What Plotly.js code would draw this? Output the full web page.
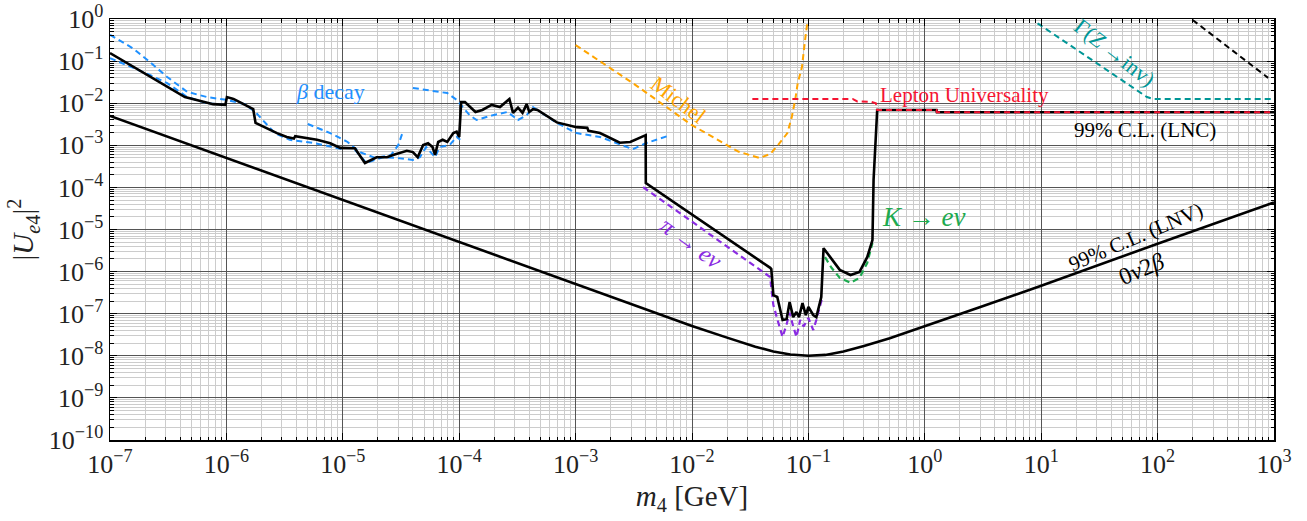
<!DOCTYPE html>
<html>
<head>
<meta charset="utf-8">
<script src="https://cdn.plot.ly/plotly-3.0.1.min.js"></script>
<style>html,body{margin:0;padding:0;background:#fff;}#plot{width:1307px;height:521px;}</style>
</head>
<body>
<div id="plot"></div>
<script>
// ---- Data (x: m4 in GeV, y: |U_e4|^2) ----
const lnvX = [1e-7, 1e-6, 1e-5, 1e-4, 1e-3, 1e-2, 0.02, 0.035, 0.05, 0.07, 0.1, 0.14, 0.2, 0.3, 0.5, 1, 3, 10, 100, 1000];
const lnvY = [5e-3, 5e-4, 5e-5, 5e-6, 5e-7, 5.1e-8, 2.7e-8, 1.65e-8, 1.26e-8, 1.07e-8, 1.0e-8, 1.05e-8, 1.26e-8, 1.7e-8, 2.6e-8, 5e-8, 1.45e-7, 4.6e-7, 4.6e-6, 4.4e-5];

const lncX = [1e-7, 4.4e-7, 7.7e-7, 9.8e-7, 1.01e-6, 1.15e-6, 1.7e-6, 1.78e-6, 2.72e-6, 3.3e-6, 3.8e-6, 3.9e-6, 6.0e-6, 7.8e-6, 9.5e-6, 1.27e-5, 1.55e-5, 1.95e-5, 2.4e-5, 2.7e-5, 3.55e-5, 4.0e-5, 4.4e-5, 4.9e-5, 5.4e-5, 5.9e-5, 6.2e-5, 6.6e-5, 7.2e-5, 7.9e-5, 8.9e-5, 9.5e-5, 1.0e-4, 1.04e-4, 1.12e-4, 1.38e-4, 1.58e-4, 1.9e-4, 2.24e-4, 2.7e-4, 2.9e-4, 3.2e-4, 3.5e-4, 3.8e-4, 4.0e-4, 4.3e-4, 4.7e-4, 6.9e-4, 1.02e-3, 1.26e-3, 1.29e-3, 1.62e-3, 2.4e-3, 2.95e-3, 4.0e-3, 4.01e-3, 4.7e-2, 4.8e-2, 5.0e-2, 5.4e-2, 6.0e-2, 6.5e-2, 6.9e-2, 7.4e-2, 7.9e-2, 8.3e-2, 8.9e-2, 9.5e-2, 0.1, 0.11, 0.117, 0.129, 0.135, 0.155, 0.186, 0.23, 0.275, 0.32, 0.355, 0.363, 0.39, 1.26, 1.27, 1.7, 1000];
const lncY = [0.155, 1.4e-2, 9.5e-3, 9.1e-3, 1.4e-2, 1.26e-2, 7.2e-3, 3.4e-3, 1.95e-3, 1.58e-3, 1.45e-3, 1.65e-3, 1.35e-3, 1.12e-3, 8.7e-4, 8.5e-4, 3.8e-4, 5.2e-4, 5.2e-4, 5.9e-4, 7.4e-4, 6.9e-4, 5.2e-4, 1.02e-3, 1.12e-3, 9.1e-4, 5.9e-4, 1.2e-3, 1.35e-3, 1.2e-3, 1.95e-3, 2.1e-3, 1.58e-3, 1.07e-2, 1.07e-2, 6.2e-3, 6.9e-3, 9.1e-3, 8.1e-3, 1.26e-2, 5.9e-3, 7.8e-3, 5.9e-3, 9.5e-3, 6.2e-3, 7.2e-3, 6.9e-3, 3.5e-3, 2.7e-3, 2.6e-3, 2.2e-3, 1.95e-3, 1.15e-3, 1.2e-3, 1.74e-3, 1.26e-4, 1.23e-6, 1.15e-6, 2.75e-7, 2.5e-7, 7.1e-8, 7.4e-8, 1.9e-7, 8.3e-8, 1.1e-7, 8.3e-8, 1.78e-7, 9.3e-8, 1.45e-7, 9.3e-8, 8.3e-8, 2.5e-7, 3.6e-6, 2.1e-6, 1.1e-6, 8.3e-7, 9.8e-7, 2.2e-6, 5.6e-6, 1.5e-4, 6.9e-3, 6.9e-3, 6.1e-3, 6.1e-3, 6.1e-3];

const luX = [3.3e-2, 0.24, 0.263, 0.347, 0.38, 0.39, 1.26, 1.27, 1000];
const luY = [1.26e-2, 1.26e-2, 1.1e-2, 1.07e-2, 1.0e-2, 6.9e-3, 6.9e-3, 6.1e-3, 6.1e-3];

const michelX = [1e-3, 3.16e-3, 1e-2, 1.86e-2, 2.5e-2, 3.8e-2, 4.7e-2, 5.5e-2, 6.6e-2, 7.2e-2, 7.7e-2, 8.1e-2, 8.8e-2, 9.3e-2, 9.8e-2];
const michelY = [0.24, 2.9e-2, 3.0e-3, 1.12e-3, 7.1e-4, 5.0e-4, 6.2e-4, 1.02e-3, 1.95e-3, 4.7e-3, 1.2e-2, 3.0e-2, 7.2e-2, 0.27, 0.85];

const piX = [3.8e-3, 4.7e-2, 4.8e-2, 5.0e-2, 5.5e-2, 6.0e-2, 6.5e-2, 6.9e-2, 7.4e-2, 7.9e-2, 8.5e-2, 9.1e-2, 0.1, 0.11, 0.117, 0.126, 0.132];
const piY = [1.02e-4, 7.4e-7, 4.0e-7, 1.6e-7, 6.3e-8, 2.8e-8, 5.6e-8, 1.05e-7, 5.0e-8, 2.8e-8, 7.1e-8, 5.0e-8, 7.9e-8, 4.1e-8, 7.1e-8, 1.45e-7, 2.5e-7];

const kX = [0.139, 0.158, 0.186, 0.23, 0.275, 0.32, 0.355];
const kY = [2.2e-6, 1.23e-6, 7.1e-7, 5.4e-7, 7.1e-7, 1.6e-6, 4.8e-6];

const zX = [9.3, 81, 91, 1000];
const zY = [0.79, 1.4e-2, 1.26e-2, 1.26e-2];

const bkDashX = [200, 890];
const bkDashY = [0.95, 4.0e-2];

const beta1X = [1e-7, 1.58e-7, 2.2e-7, 3.1e-7, 4.6e-7, 6.8e-7, 1e-6, 1.44e-6, 1.8e-6, 2.6e-6, 3.5e-6, 5.8e-6, 1.05e-5];
const beta1Y = [0.42, 0.20, 0.095, 4.2e-2, 1.86e-2, 1.4e-2, 1.2e-2, 9.5e-3, 5.9e-3, 1.95e-3, 1.35e-3, 1.12e-3, 7.8e-4];
const beta2X = [1e-7, 1.58e-7, 2.2e-7, 3.1e-7, 4.6e-7, 6.8e-7, 9.5e-7];
const beta2Y = [0.118, 6.9e-2, 4.7e-2, 3.0e-2, 1.4e-2, 1.0e-2, 9.1e-3];
const beta3X = [5.0e-6, 7.8e-6, 1.1e-5, 1.4e-5, 1.9e-5, 2.6e-5, 3.0e-5, 3.3e-5];
const beta3Y = [3.2e-3, 1.95e-3, 1.2e-3, 6.9e-4, 5.0e-4, 5.9e-4, 1.02e-3, 2.2e-3];
const beta4X = [1.27e-5, 1.6e-5, 2.2e-5, 2.9e-5, 4.0e-5, 4.6e-5, 5.2e-5, 6.2e-5, 6.8e-5, 8.3e-5, 9.5e-5, 1.02e-4];
const beta4Y = [7.8e-4, 3.8e-4, 5.2e-4, 5.0e-4, 4.5e-4, 5.2e-4, 9.1e-4, 5.2e-4, 9.1e-4, 1.02e-3, 1.58e-3, 1.35e-3];
const beta5X = [4.0e-5, 5.9e-5, 7.9e-5, 9.5e-5, 1.07e-4, 1.23e-4, 1.41e-4, 1.95e-4, 2.6e-4, 3.2e-4, 3.8e-4, 4.3e-4, 6.9e-4, 1.02e-3, 1.62e-3, 2.3e-3, 3.1e-3, 4.0e-3, 6.5e-3];
const beta5Y = [2.3e-2, 2.0e-2, 1.74e-2, 1.2e-2, 8.1e-3, 5.2e-3, 4.0e-3, 5.2e-3, 6.2e-3, 4.0e-3, 5.2e-3, 8.1e-3, 3.4e-3, 1.95e-3, 1.58e-3, 1.12e-3, 8.1e-4, 1.12e-3, 1.74e-3];

const xTickVals = [1e-7, 1e-6, 1e-5, 1e-4, 1e-3, 1e-2, 1e-1, 1, 10, 100, 1000];
const xTickText = ['10<sup>−7</sup>', '10<sup>−6</sup>', '10<sup>−5</sup>', '10<sup>−4</sup>', '10<sup>−3</sup>', '10<sup>−2</sup>', '10<sup>−1</sup>', '10<sup>0</sup>', '10<sup>1</sup>', '10<sup>2</sup>', '10<sup>3</sup>'];
const yTickVals = [1e-10, 1e-9, 1e-8, 1e-7, 1e-6, 1e-5, 1e-4, 1e-3, 1e-2, 1e-1, 1];
const yTickText = ['10<sup>−10</sup>', '10<sup>−9</sup>', '10<sup>−8</sup>', '10<sup>−7</sup>', '10<sup>−6</sup>', '10<sup>−5</sup>', '10<sup>−4</sup>', '10<sup>−3</sup>', '10<sup>−2</sup>', '10<sup>−1</sup>', '10<sup>0</sup>'];

// ---- Styling ----
const FONT = '"Liberation Serif", "DejaVu Serif", serif';
const BLUE = 'rgb(30,144,255)';
const ORANGE = 'rgb(255,165,0)';
const RED = 'rgb(245,20,50)';
const PURPLE = 'rgb(138,43,226)';
const GREEN = 'rgb(30,170,80)';
const TEAL = 'rgb(0,150,150)';
const DASH = '6px,4px';

function minorVals(lo, hi) {
  const v = [];
  for (let e = lo; e < hi; e++) for (let d = 2; d <= 9; d++) v.push(d * Math.pow(10, e));
  return v;
}

function line(x, y, color, width, dash) {
  return {x: x, y: y, type: 'scatter', mode: 'lines', hoverinfo: 'skip',
          line: {color: color, width: width, dash: dash || 'solid'}};
}

const traces = [
  line(beta1X, beta1Y, BLUE, 2, DASH),
  line(beta2X, beta2Y, BLUE, 2, DASH),
  line(beta3X, beta3Y, BLUE, 2, DASH),
  line(beta4X, beta4Y, BLUE, 2, DASH),
  line(beta5X, beta5Y, BLUE, 2, DASH),
  line(michelX, michelY, ORANGE, 2, DASH),
  line(piX, piY, PURPLE, 2.2, DASH),
  line(kX, kY, GREEN, 2.2, DASH),
  line(zX, zY, TEAL, 2, DASH),
  line(bkDashX, bkDashY, 'black', 2, DASH),
  line(lnvX, lnvY, 'black', 2.6),
  line(lncX, lncY, 'black', 2.6),
  line(luX, luY, RED, 2, DASH)
];

function ann(text, lx, ly, color, size, angle, xanchor) {
  return {text: text, x: lx, y: ly, xref: 'x', yref: 'y', showarrow: false,
          font: {family: FONT, size: size, color: color}, textangle: angle || 0,
          xanchor: xanchor || 'center', yanchor: 'middle'};
}

const annotations = [
  ann('<i>β</i> decay', -5.11, -1.73, BLUE, 22),
  ann('Michel', -2.12, -1.92, ORANGE, 22, 37),
  ann('Lepton Universality', -0.40, -1.81, RED, 21, 0, 'left'),
  ann('Γ(<i>Z</i> →inv)', 1.63, -0.80, TEAL, 22, 38),
  ann('99% C.L. (LNC)', 1.89, -2.64, 'black', 21),
  ann('<i>K</i> → <i>eν</i>', -0.385, -4.70, GREEN, 27, 0, 'left'),
  ann('<i>π</i> → <i>eν</i>', -2.01, -5.33, PURPLE, 24, 36),
  ann('99% C.L. (LNV)', 1.81, -5.18, 'black', 21, -23),
  ann('0<i>ν</i>2<i>β</i>', 1.86, -5.93, 'black', 24, -23)
];

const axisCommon = {
  type: 'log', showline: true, linecolor: 'black', linewidth: 1.5, mirror: 'allticks',
  ticks: 'inside', ticklen: 7, tickwidth: 1, tickcolor: 'black',
  showgrid: true, gridcolor: '#555', gridwidth: 1, zeroline: false,
  tickmode: 'array', tickfont: {family: FONT, size: 26, color: '#222'}
};

const layout = {
  width: 1307, height: 521,
  margin: {l: 110, r: 33, t: 19, b: 81},
  paper_bgcolor: 'white', plot_bgcolor: 'white',
  showlegend: false,
  font: {family: FONT},
  xaxis: Object.assign({}, axisCommon, {
    range: [-7, 3], tickvals: xTickVals, ticktext: xTickText,
    minor: {tickmode: 'array', tickvals: minorVals(-7, 3), ticks: 'inside', ticklen: 3.5,
            tickcolor: 'black', showgrid: true, gridcolor: '#cccccc', gridwidth: 1},
    title: {text: '<i>m</i><sub>4</sub> [GeV]', font: {family: FONT, size: 29, color: '#222'}, standoff: 8}
  }),
  yaxis: Object.assign({}, axisCommon, {
    range: [-10, 0], tickvals: yTickVals, ticktext: yTickText,
    minor: {tickmode: 'array', tickvals: minorVals(-10, 0), ticks: 'inside', ticklen: 3.5,
            tickcolor: 'black', showgrid: true, gridcolor: '#cccccc', gridwidth: 1},
    title: {text: '|<i>U</i><sub><i>e</i>4</sub>|<sup>2</sup>', font: {family: FONT, size: 29, color: '#222'}, standoff: 6}
  }),
  annotations: annotations
};

Plotly.newPlot('plot', traces, layout, {staticPlot: true, displayModeBar: false});
</script>
</body>
</html>
